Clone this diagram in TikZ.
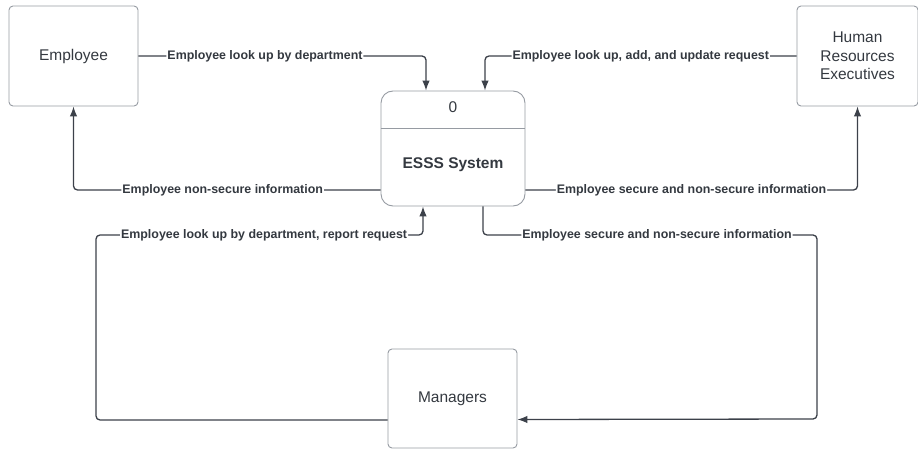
\documentclass[tikz,border=0pt]{standalone}
\usepackage{fontspec}
\setmainfont{Liberation Sans}
\usetikzlibrary{arrows.meta}
\definecolor{flowgray}{RGB}{60,65,74}
\definecolor{boxgray}{RGB}{150,155,162}
\definecolor{textgray}{RGB}{52,57,64}
\begin{document}
\begin{tikzpicture}[x=1pt,y=-1pt,
  entity/.style={draw=boxgray,line width=0.9pt,rounded corners=4pt,minimum width=129pt,minimum height=100pt,
    align=center,text=textgray,font=\fontsize{15.5}{18.5}\selectfont},
  flow/.style={draw=flowgray,line width=1.3pt,rounded corners=4pt,-{Latex[length=10pt,width=7.5pt]}},
  lbl/.style={fill=white,inner sep=1pt,text=textgray,font=\fontsize{12.4}{14}\selectfont\bfseries}]
\useasboundingbox (0,0) rectangle (918,449);

\node[entity] (emp) at (73.5,56) {Employee};
\node[entity,minimum width=121pt] (hr) at (857.5,56) {Human\\Resources\\Executives};
\node[entity,minimum height=99pt] (mgr) at (452.5,398.5) {Managers};
\node[draw=boxgray,line width=0.9pt,rounded corners=12pt,minimum width=144pt,minimum height=115pt] (sys) at (453,148.5) {};
\node[text=textgray,font=\fontsize{15.5}{18}\selectfont] (sysid) at (453,107) {0};
\node[text=textgray,font=\fontsize{15.5}{18}\selectfont\bfseries] (sysname) at (453,165) {ESSS System};
\draw[boxgray,line width=0.9pt] ([yshift=-38pt]sys.north west) -- ([yshift=-38pt]sys.north east);

\coordinate (sysw) at ([yshift=-41.5pt]sys.west);
\coordinate (syse) at ([yshift=-41.5pt]sys.east);
\coordinate (mgrw) at ([yshift=-21.5pt]mgr.west);
\coordinate (mgre) at ([yshift=-21pt]mgr.east);

\draw[flow] (emp.east) -- node[lbl,pos=0.44] {Employee look up by department} ([xshift=-27pt]sys.north |- emp.east) -- ([xshift=-27pt]sys.north);
\draw[flow] (hr.west) -- node[lbl,pos=0.5] {Employee look up, add, and update request} ([xshift=32pt]sys.north |- hr.west) -- ([xshift=32pt]sys.north);
\draw[flow] (sysw) -- node[lbl,pos=0.514] {Employee non-secure information} (emp.south |- sysw) -- (emp.south);
\draw[flow] (syse) -- node[lbl,pos=0.5] {Employee secure and non-secure information} (hr.south |- syse) -- (hr.south);
\draw[flow] (mgrw) -- (96,420) -- (96,235) -- node[lbl,pos=0.514] {Employee look up by department, report request} (423,235) -- ([xshift=-30pt]sys.south);
\draw[flow] ([xshift=30pt]sys.south) -- (483,235) -- node[lbl,pos=0.521] {Employee secure and non-secure information} (817,235) -- (817,419) -- (mgre);
\end{tikzpicture}
\end{document}
